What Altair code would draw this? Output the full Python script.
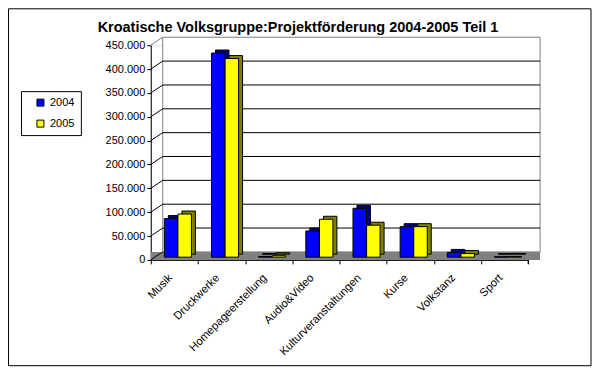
import altair as alt
import pandas as pd

# ---- data ----
categories = ["Musik", "Druckwerke", "Homepageerstellung", "Audio&Video",
              "Kulturveranstaltungen", "Kurse", "Volkstanz", "Sport"]
values_2004 = [81000, 428000, 1500, 55000, 102500, 64000, 10000, 1000]
values_2005 = [90500, 416500, 3000, 79500, 67000, 64000, 7500, 1500]
years = ["2004", "2005"]
y_ticks = [0, 50000, 100000, 150000, 200000, 250000, 300000, 350000, 400000, 450000]
title_text = "Kroatische Volksgruppe:Projektförderung 2004-2005 Teil 1"

rows = []
for c, v in zip(categories, values_2004):
    rows.append({"cat": c, "year": "2004", "value": v})
for c, v in zip(categories, values_2005):
    rows.append({"cat": c, "year": "2005", "value": v})
df = pd.DataFrame(rows)
ticks_df = pd.DataFrame({"v": y_ticks})
grid_df = pd.DataFrame({"v": y_ticks[1:-1]})

# ---- style constants ----
W, H = 378, 215
DX, DY = 12, -8          # depth of the 3D wall
BW = 13.5                # bar width
BAR_DY = -2.7            # bars sit slightly behind front plane
SX, SY = 4, -3           # bar depth
FONT = "Liberation Sans"

yscale = alt.Scale(domain=[0, 450000], nice=False, zero=True)
xenc = alt.X("cat:N", sort=categories, title=None,
             scale=alt.Scale(paddingInner=0, paddingOuter=0),
             axis=alt.Axis(labelAngle=-45, labelAlign="right", labelBaseline="middle",
                           labelPadding=12, labelOffset=-4, tickSize=4, tickBand="extent",
                           bandPosition=0,
                           domainColor="black", tickColor="black", labelColor="black",
                           labelFont=FONT, labelFontSize=11.3, grid=False, labelOverlap=False))
yaxis = alt.Axis(values=y_ticks, labelExpr="replace(format(datum.value, ',d'), ',', '.')",
                 tickSize=4, labelPadding=2, domainColor="black", tickColor="black",
                 labelColor="black", labelFont=FONT, labelFontSize=11, grid=False, title=None,
                 labelOverlap=False)


def yenc(field):
    return alt.Y(field, scale=yscale, axis=yaxis)


base = alt.Chart(df)

# back wall
wall = alt.Chart(ticks_df).transform_filter("datum.v == 0").mark_rect(
    fill="white", stroke="#808080", strokeWidth=1, yOffset=DY, y2Offset=DY
).encode(
    x=alt.value(DX), x2=alt.value(W + DX),
    y=yenc("v:Q"),
    y2=alt.Y2(datum=450000),
)

# floor
floor = alt.Chart(ticks_df).transform_filter("datum.v == 0").mark_rect(
    fill="#808080", yOffset=0, y2Offset=DY
).encode(
    x=alt.value(0), x2=alt.value(W + DX),
    y=yenc("v:Q"), y2=alt.Y2("v:Q"),
)

# back gridlines
grid = alt.Chart(grid_df).mark_rule(color="black", strokeWidth=1, yOffset=DY, y2Offset=DY).encode(
    x=alt.value(DX), x2=alt.value(W + DX),
    y=yenc("v:Q"),
)

# side-wall diagonals
diag = alt.Chart(ticks_df).mark_rule(strokeWidth=1, y2Offset=DY).encode(
    x=alt.value(0), x2=alt.value(DX),
    y=yenc("v:Q"), y2=alt.Y2("v:Q"),
    color=alt.condition("datum.v == 450000", alt.value("#808080"), alt.value("black")),
)


def bars(year, dx, fill, front):
    d = base.transform_filter(f"datum.year == '{year}'")
    if front:
        m = d.mark_bar(width=BW, stroke="black", strokeWidth=1,
                       xOffset=dx, yOffset=BAR_DY, y2Offset=BAR_DY)
        return m.encode(
            x=xenc,
            y=yenc("value:Q"),
            y2=alt.datum(0),
            color=alt.Color("year:N",
                            scale=alt.Scale(domain=years, range=["#0000ff", "#ffff00"]),
                            legend=alt.Legend(title=None, orient="none", legendX=-130, legendY=46,
                                              strokeColor="black", fillColor="white", padding=6,
                                              symbolType="square", symbolSize=49,
                                              symbolStrokeColor="black", symbolStrokeWidth=1,
                                              symbolOffset=8, rowPadding=9,
                                              labelFont=FONT, labelFontSize=11, labelColor="black")),
        )
    m = d.mark_bar(width=BW, stroke="black", strokeWidth=1, fill=fill,
                   xOffset=dx + SX, yOffset=BAR_DY + SY, y2Offset=BAR_DY + SY)
    return m.encode(x=xenc, y=yenc("value:Q"), y2=alt.datum(0))


blue_back = bars("2004", -3.3, "#000080", False)
blue_front = bars("2004", -3.3, None, True)
yel_back = bars("2005", 10.35, "#808000", False)
yel_front = bars("2005", 10.35, None, True)

# last x-axis tick at the end of the axis
end_tick = alt.Chart(ticks_df).transform_filter("datum.v == 0").mark_rule(color="black").encode(
    x=alt.value(W), y=alt.value(H), y2=alt.value(H + 4))

# outer frame of the whole chart
frame = alt.Chart(ticks_df).transform_filter("datum.v == 0").mark_rect(
    fill=None, stroke="black", strokeWidth=1).encode(
    x=alt.value(-142.5), x2=alt.value(441), y=alt.value(-36.5), y2=alt.value(321))

chart = alt.layer(
    wall, floor, grid, diag, blue_back, blue_front, yel_back, yel_front, end_tick, frame
).properties(
    width=W, height=H, padding=0,
    title=alt.TitleParams(title_text, font=FONT, fontSize=14.5, fontWeight="bold",
                          color="black", anchor="middle", dx=-41.5, dy=1, offset=-26,
                          frame="group"),
).configure_view(stroke=None).configure(background="white")

chart.save("out.html", embed_options={"renderer": "svg", "actions": False})
